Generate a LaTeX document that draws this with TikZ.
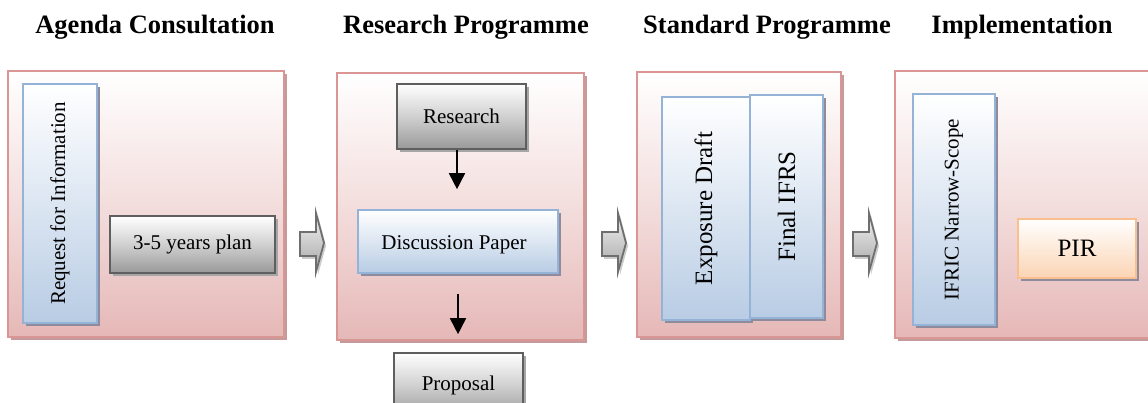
\documentclass[tikz,border=0pt]{standalone}
\usepackage{fontspec}
\setmainfont{Liberation Serif}
\usepackage{graphicx}
\usetikzlibrary{shadows,arrows.meta}
\definecolor{pinkb}{HTML}{D99694}
\definecolor{pinkf}{HTML}{E5B8B7}
\definecolor{pinkm}{HTML}{F3DEDD}
\definecolor{pinks}{HTML}{C49A9A}
\definecolor{blueb}{HTML}{95B3D7}
\definecolor{bluef}{HTML}{B8CCE4}
\definecolor{bluem}{HTML}{DCE6F2}
\definecolor{grayb}{HTML}{5F5F5F}
\definecolor{grayf}{HTML}{999999}
\definecolor{graym}{HTML}{D0D0D0}
\definecolor{orangeb}{HTML}{FABF8F}
\definecolor{orangef}{HTML}{FBD4B4}
\definecolor{boxs}{HTML}{8E8C9C}
\begin{document}
\begin{tikzpicture}[x=1pt,y=-1pt,
  panel/.style={draw=pinkb, line width=1.6pt, top color=white, bottom color=pinkf, middle color=pinkm,
    drop shadow={shadow xshift=3pt, shadow yshift=-3pt, fill=pinks, opacity=1},
    inner sep=0pt, rectangle},
  bluebox/.style={draw=blueb, line width=1.6pt, top color=white, bottom color=bluef, middle color=bluem,
    drop shadow={shadow xshift=3pt, shadow yshift=-3pt, fill=boxs, opacity=1},
    inner sep=0pt, rectangle, font=\fontsize{21}{24}\selectfont},
  graybox/.style={draw=grayb, line width=1.6pt, top color=white, bottom color=grayf, middle color=graym,
    drop shadow={shadow xshift=3pt, shadow yshift=-3pt, fill=gray!70, opacity=1},
    inner sep=0pt, rectangle, font=\fontsize{21}{24}\selectfont},
  orangebox/.style={draw=orangeb, line width=1.6pt, top color=white, bottom color=orangef,
    drop shadow={shadow xshift=3pt, shadow yshift=-3pt, fill=boxs, opacity=1},
    inner sep=0pt, rectangle, font=\fontsize{21}{24}\selectfont},
  bigtext/.style={font=\fontsize{25}{28}\selectfont},
  header/.style={font=\fontsize{26.5}{30}\selectfont\bfseries, anchor=base, inner sep=0pt},
  flow/.style={line width=1.7pt, -{Triangle[width=16pt,length=16pt]}},
  blockarrow/.style={draw=grayb!90, line width=1.8pt, line join=miter, top color=gray!10, bottom color=gray!70,
    drop shadow={shadow xshift=2pt, shadow yshift=-3pt, fill=gray!40, opacity=1}}
]
\useasboundingbox (0,0) rectangle (1148,403);
\fill[white] (0,0) rectangle (1148,403);
\clip (0,0) rectangle (1148,403);

% headers
\node[header] (h1) at (155,34) {Agenda Consultation};
\node[header] (h2) at (466,34) {Research Programme};
\node[header] (h3) at (767,34) {Standard Programme};
\node[header] (h4) at (1022,34) {Implementation};

% panels
\node[panel, minimum width=276pt, minimum height=266pt] (p1) at (146,204) {};
\node[panel, minimum width=247pt, minimum height=267pt] (p2) at (460.5,206.5) {};
\node[panel, minimum width=204pt, minimum height=265pt] (p3) at (739,204.5) {};
\node[panel, minimum width=265pt, minimum height=267pt] (p4) at (1027.5,204.5) {};

% panel 1
\node[bluebox, minimum width=74pt, minimum height=239pt] (rfi) at (60,203.5) {\rotatebox{90}{Request for Information}};
\node[graybox, minimum width=165pt, minimum height=57pt] (plan) at (192.5,244.5) {3-5 years plan};

% panel 2
\node[graybox, minimum width=129pt, minimum height=65pt] (res) at (461.5,116.5) {Research};
\node[bluebox, minimum width=200pt, minimum height=63pt] (dp) at (458,241.5) {\raisebox{-3pt}[\height][\depth]{\hspace*{-8pt}Discussion Paper}};
\node[graybox, minimum width=129pt, minimum height=65pt] (prop) at (458.5,385.5) {Proposal};
\draw[flow, shorten >=20pt] (res.south -| 457,0) -- (dp.north -| 457,0);
\draw[flow, shorten <=20pt, shorten >=18pt] (dp.south) -- (prop.north -| dp.south);

% panel 3
\node[bluebox, bigtext, minimum width=88pt, minimum height=223pt] (ed) at (706,208.5) {\rotatebox{90}{Exposure Draft}};
\node[bluebox, bigtext, minimum width=73pt, minimum height=223pt] (fi) at (786.5,206.5) {\rotatebox{90}{Final IFRS}};

% panel 4
\node[bluebox, minimum width=82pt, minimum height=231pt] (ifric) at (954,209.5) {\rotatebox{90}{IFRIC Narrow-Scope}};
\node[orangebox, bigtext, minimum width=118pt, minimum height=59pt] (pir) at (1077,248.5) {PIR};

% block arrows between panels
\foreach \dx in {0,302,553} {
  \begin{scope}[xshift=\dx pt]
    \path[blockarrow] (300,232) -- (316,232) -- (316,213) -- (324,243) -- (316,272) -- (316,256) -- (300,256) -- cycle;
  \end{scope}
}
\end{tikzpicture}
\end{document}
